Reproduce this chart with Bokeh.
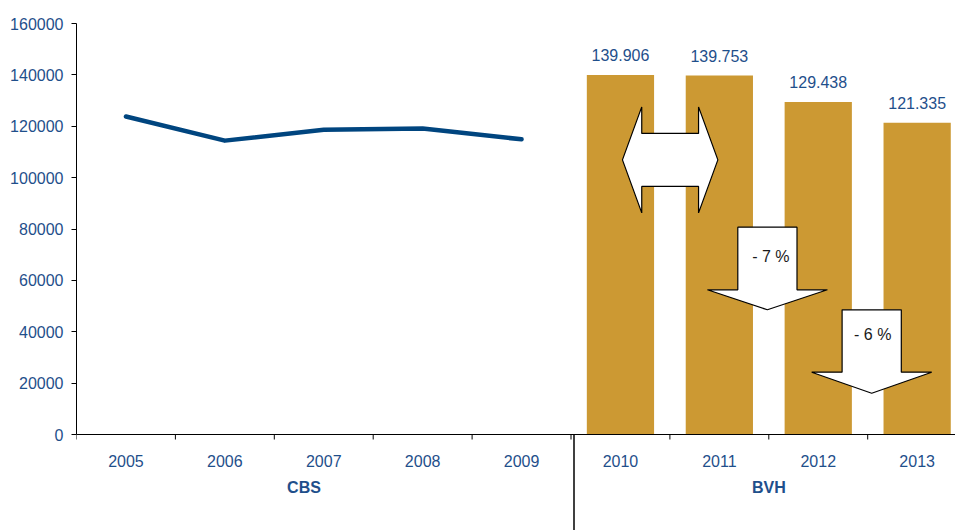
from bokeh.plotting import figure
from bokeh.models import Range1d, FixedTicker, BasicTickFormatter
from bokeh.core.properties import value
from bokeh.embed import file_html
from bokeh.resources import INLINE

# ---- data ----
years = ["2005", "2006", "2007", "2008", "2009", "2010", "2011", "2012", "2013"]
cbs_years = ["2005", "2006", "2007", "2008", "2009"]
cbs_values = [123800, 114400, 118600, 119100, 114900]
bvh_years = ["2010", "2011", "2012", "2013"]
bvh_values = [139906, 139753, 129438, 121335]
y_ticks = [0, 20000, 40000, 60000, 80000, 100000, 120000, 140000, 160000]
groups = ["CBS", "BVH"]
change_labels = ["- 7 %", "- 6 %"]

# ---- layout geometry ----
W, H = 955, 530
frame_left, frame_top = 76, 14
frame_w = W - frame_left
cat_px = 98.9
px_per_unit = 411 / 160000.0
y0_canvas = 434  # canvas y of value 0
y_max = (y0_canvas - frame_top) / px_per_unit
y_min = -(H - y0_canvas) / px_per_unit
x_end = -0.5 + frame_w / cat_px

BLUE = "#1F4F8B"
LINE = "#00457F"
GOLD = "#CC9933"
FONT = "Liberation Sans"
FS = "16px"

def py(px):  # pixel distance -> data units on y
    return px / px_per_unit

def cx(px):  # pixel distance -> data units on x
    return px / cat_px

idx = {y: i for i, y in enumerate(years)}

p = figure(width=W, height=H, output_backend="svg", toolbar_location=None,
           x_range=Range1d(-0.5, x_end), y_range=Range1d(y_min, y_max),
           min_border_left=frame_left, min_border_top=frame_top,
           min_border_right=0, min_border_bottom=0, x_axis_location=None)
p.outline_line_color = None
p.xgrid.visible = False
p.ygrid.visible = False
p.background_fill_color = "white"

ax = p.yaxis[0]
ax.ticker = FixedTicker(ticks=y_ticks)
ax.formatter = BasicTickFormatter(use_scientific=False)
ax.bounds = (0, 160000)
ax.major_tick_out = 5
ax.major_tick_in = 0
ax.minor_tick_out = 0
ax.minor_tick_in = 0
ax.major_label_standoff = 8
ax.major_label_text_color = BLUE
ax.major_label_text_font = FONT
ax.major_label_text_font_size = FS
ax.axis_line_color = "black"
ax.major_tick_line_color = "black"

# bars
bx = [idx[y] for y in bvh_years]
p.vbar(x=bx, top=bvh_values, width=0.68, bottom=0, fill_color=GOLD, line_color=None)

# line
lx = [idx[y] for y in cbs_years]
p.line(lx, cbs_values, line_color=LINE, line_width=4.5, line_cap="round", line_join="round")

# x axis (drawn inside frame so the separator can extend below)
p.segment(x0=[-0.5], y0=[0], x1=[x_end], y1=[0], line_color="black", line_width=1)
bounds_x = [i - 0.5 for i in range(len(years) + 1) if i - 0.5 < x_end]
p.segment(x0=bounds_x, y0=[0] * len(bounds_x), x1=bounds_x, y1=[-py(5)] * len(bounds_x),
          line_color="black", line_width=1)
# separator
sep_x = idx["2010"] - 0.5 + cx(3)
p.segment(x0=[sep_x], y0=[0], x1=[sep_x], y1=[y_min], line_color="black", line_width=1.5)

# category labels
p.text(x=list(range(len(years))), y=[-py(26)] * len(years), text=years,
       text_align="center", text_baseline="middle", text_color=BLUE,
       text_font=value(FONT), text_font_size=FS)
# group labels
gx = [idx["2007"] - 0.2, (idx["2010"] + idx["2013"]) / 2]
p.text(x=gx, y=[-py(53)] * 2, text=groups, text_align="center", text_baseline="middle",
       text_color=BLUE, text_font=value(FONT), text_font_size=FS, text_font_style="bold")

# bar value labels
vals = [f"{v / 1000:.3f}" for v in bvh_values]
p.text(x=bx, y=[v + py(20) for v in bvh_values], text=vals, text_align="center",
       text_baseline="middle", text_color=BLUE, text_font=value(FONT), text_font_size=FS)

# double arrow between 2010 and 2011
xl = idx["2010"] + cx(2)
xr = idx["2011"] - cx(1.5)
yc = 106900
hl = cx(19.3)
sh = py(26.5)
hh = py(53)
dax = [xl, xl + hl, xl + hl, xr - hl, xr - hl, xr, xr - hl, xr - hl, xl + hl, xl + hl]
day = [yc, yc + hh, yc + sh, yc + sh, yc + hh, yc, yc - hh, yc - sh, yc - sh, yc - hh]
p.patch(dax, day, fill_color="white", line_color="black", line_width=1.2)

# down arrows
def down_arrow(xc, top, base, tip):
    sw = cx(29.6)
    hw = cx(60)
    xs = [xc - sw, xc + sw, xc + sw, xc + hw, xc, xc - hw, xc - sw]
    ys = [top, top, base, base, tip, base, base]
    return xs, ys

a1 = down_arrow(idx["2011"] + 0.5 - cx(1.4), py(434 - 226.7), py(434 - 289.3), py(434 - 309.3))
a2 = down_arrow(idx["2012"] + 0.5 + cx(4), py(434 - 309.3), py(434 - 371.7), py(434 - 392.7))
p.patches([a1[0], a2[0]], [a1[1], a2[1]], fill_color="white", line_color="black", line_width=1.2)
p.text(x=[idx["2011"] + 0.5 + cx(2), idx["2012"] + 0.5 + cx(5)],
       y=[py(434 - 256), py(434 - 334)], text=change_labels, text_align="center",
       text_baseline="middle", text_color="#1a1a1a", text_font=value(FONT), text_font_size=FS)

open("out.html", "w").write(file_html(p, INLINE))
